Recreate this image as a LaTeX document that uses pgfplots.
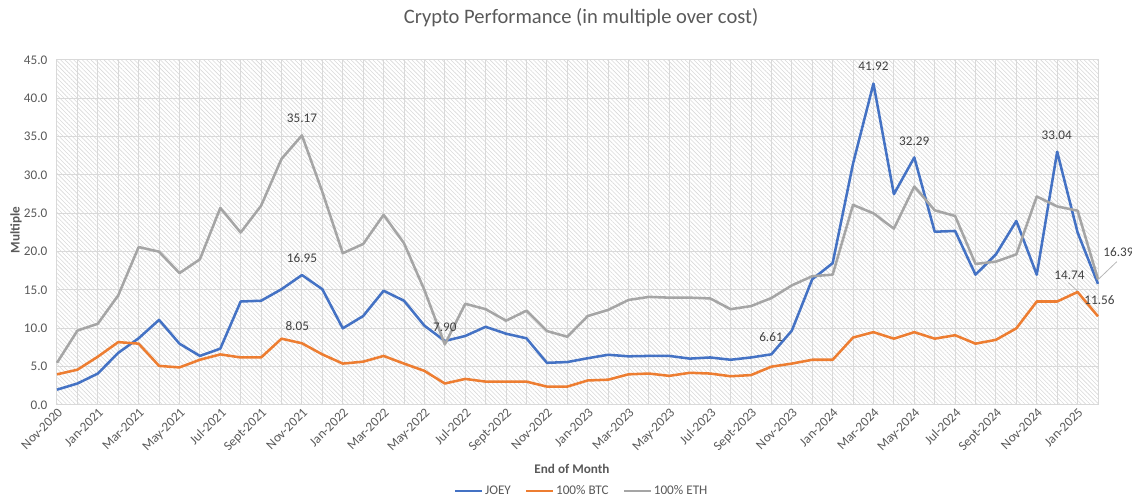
\documentclass[border=0pt]{standalone}
\usepackage{fontspec}
\setmainfont{Carlito}
\usepackage{pgfplots}
\pgfplotsset{compat=1.18}
\usetikzlibrary{patterns.meta}

\definecolor{joey}{HTML}{4472C4}
\definecolor{btc}{HTML}{ED7D31}
\definecolor{eth}{HTML}{A5A5A5}
\definecolor{txt}{HTML}{595959}
\definecolor{lbl}{HTML}{404040}
\definecolor{gridc}{HTML}{D9D9D9}

% month index 0 = Nov-2020 ... 51 = Feb-2025
\pgfplotstableread{
idx joey btc eth
0 2.0 4.0 5.5
1 2.8 4.6 9.7
2 4.1 6.3 10.6
3 6.8 8.2 14.3
4 8.7 8.0 20.6
5 11.1 5.1 20.0
6 8.0 4.9 17.2
7 6.4 5.9 19.0
8 7.35 6.6 25.7
9 13.5 6.2 22.5
10 13.6 6.2 26.0
11 15.1 8.65 32.1
12 16.95 8.05 35.17
13 15.1 6.6 27.8
14 10.0 5.4 19.8
15 11.6 5.65 21.0
16 14.9 6.4 24.8
17 13.6 5.4 21.1
18 10.35 4.45 15.0
19 8.35 2.8 7.90
20 9.0 3.4 13.2
21 10.2 3.05 12.5
22 9.3 3.05 11.0
23 8.7 3.05 12.3
24 5.5 2.4 9.65
25 5.6 2.4 8.9
26 6.1 3.2 11.6
27 6.55 3.3 12.4
28 6.35 4.0 13.7
29 6.4 4.1 14.1
30 6.4 3.8 14.0
31 6.05 4.2 14.0
32 6.2 4.1 13.9
33 5.9 3.75 12.5
34 6.2 3.9 12.9
35 6.61 5.0 13.95
36 9.7 5.4 15.6
37 16.4 5.9 16.8
38 18.5 5.9 17.0
39 31.5 8.8 26.1
40 41.92 9.5 25.0
41 27.5 8.65 23.0
42 32.29 9.5 28.5
43 22.6 8.65 25.4
44 22.7 9.1 24.65
45 17.0 8.0 18.4
46 19.65 8.5 18.7
47 24.0 10.0 19.65
48 17.0 13.5 27.2
49 33.04 13.5 25.9
50 22.5 14.74 25.35
51 15.8 11.56 16.39
}\datatable

\newcommand\smallfont{\fontsize{9.9}{12}\selectfont}

\begin{document}
\begin{tikzpicture}
\useasboundingbox (-42.75pt,-69.75pt) rectangle (806.25pt,303.75pt);
\begin{axis}[
    at={(0,0)}, anchor=south west,
    scale only axis,
    width=780.75pt, height=258.75pt,
    xmin=0, xmax=51,
    ymin=0, ymax=45,
    ytick={0,5,...,45},
    xtick={0,2,...,50},
    minor xtick={1,3,...,51},
    xticklabels={Nov-2020,Jan-2021,Mar-2021,May-2021,Jul-2021,Sept-2021,Nov-2021,Jan-2022,Mar-2022,May-2022,Jul-2022,Sept-2022,Nov-2022,Jan-2023,Mar-2023,May-2023,Jul-2023,Sept-2023,Nov-2023,Jan-2024,Mar-2024,May-2024,Jul-2024,Sept-2024,Nov-2024,Jan-2025},
    /pgf/number format/assume math mode=true,
    yticklabel style={/pgf/number format/fixed, /pgf/number format/fixed zerofill, /pgf/number format/precision=1, inner sep=0pt, xshift=-7pt},
    tick label style={font=\smallfont, text=txt},
    xticklabel style={rotate=45, anchor=north east, inner sep=1pt},
    major tick length=0pt, minor tick length=0pt,
    grid=both,
    major grid style={draw=gridc, line width=0.75pt},
    minor grid style={draw=gridc, line width=0.75pt},
    axis line style={draw=gridc, line width=0.75pt},
    axis background/.style={pattern={Lines[angle=135, distance=2.3pt, line width=0.45pt]}, pattern color=black!15},
    title={Crypto Performance (in multiple over cost)},
    title style={at={(axis description cs:0.5034,1.0986)}, anchor=center, font=\fontsize{15.4}{18}\selectfont, text=txt},
    xlabel={\textbf{End of Month}},
    xlabel style={at={(axis description cs:0.4947,-0.1855)}, anchor=center, font=\smallfont, text=txt},
    ylabel={\textbf{Multiple}},
    ylabel style={at={(axis description cs:-0.0394,0.507)}, anchor=center, font=\smallfont, text=txt},
    legend columns=3,
    legend style={at={(axis description cs:0.504,-0.249)}, anchor=center, draw=none, fill=none,
        font=\smallfont, text=txt, inner sep=0pt,
        nodes={inner sep=1.5pt},
        /tikz/every even column/.append style={column sep=9pt}},
    legend image code/.code={\draw[#1] (0pt,0pt) -- (20pt,0pt);},
    every axis plot/.append style={line width=1.9pt, line join=round, no markers},
    clip=false,
]
\addplot[joey] table[x=idx, y=joey] {\datatable};
\addlegendentry{JOEY}
\addplot[btc] table[x=idx, y=btc] {\datatable};
\addlegendentry{100\% BTC}
\addplot[eth] table[x=idx, y=eth] {\datatable};
\addlegendentry{100\% ETH}

% data labels
\begin{scope}[every node/.style={font=\smallfont, text=lbl, inner sep=0pt}]
\node at (axis cs:12,37.4) {35.17};
\node at (axis cs:12,19.13) {16.95};
\node at (axis cs:11.77,10.3) {8.05};
\node at (axis cs:19,10.1) {7.90};
\node at (axis cs:34.98,8.87) {6.61};
\node at (axis cs:40,44.13) {41.92};
\node at (axis cs:42,34.43) {32.29};
\node at (axis cs:48.98,35.2) {33.04};
\node at (axis cs:49.6,16.96) {14.74};
\node at (axis cs:51.07,13.7) {11.56};
\node at (axis cs:52.0,19.9) {16.39};
\end{scope}
\draw[eth!80, line width=0.6pt] (axis cs:49.55,15.95) -- (axis cs:49.99,14.9);
\draw[eth!80, line width=0.6pt] (axis cs:51.02,16.4) -- (axis cs:51.92,18.69);
\end{axis}
\end{tikzpicture}
\end{document}
